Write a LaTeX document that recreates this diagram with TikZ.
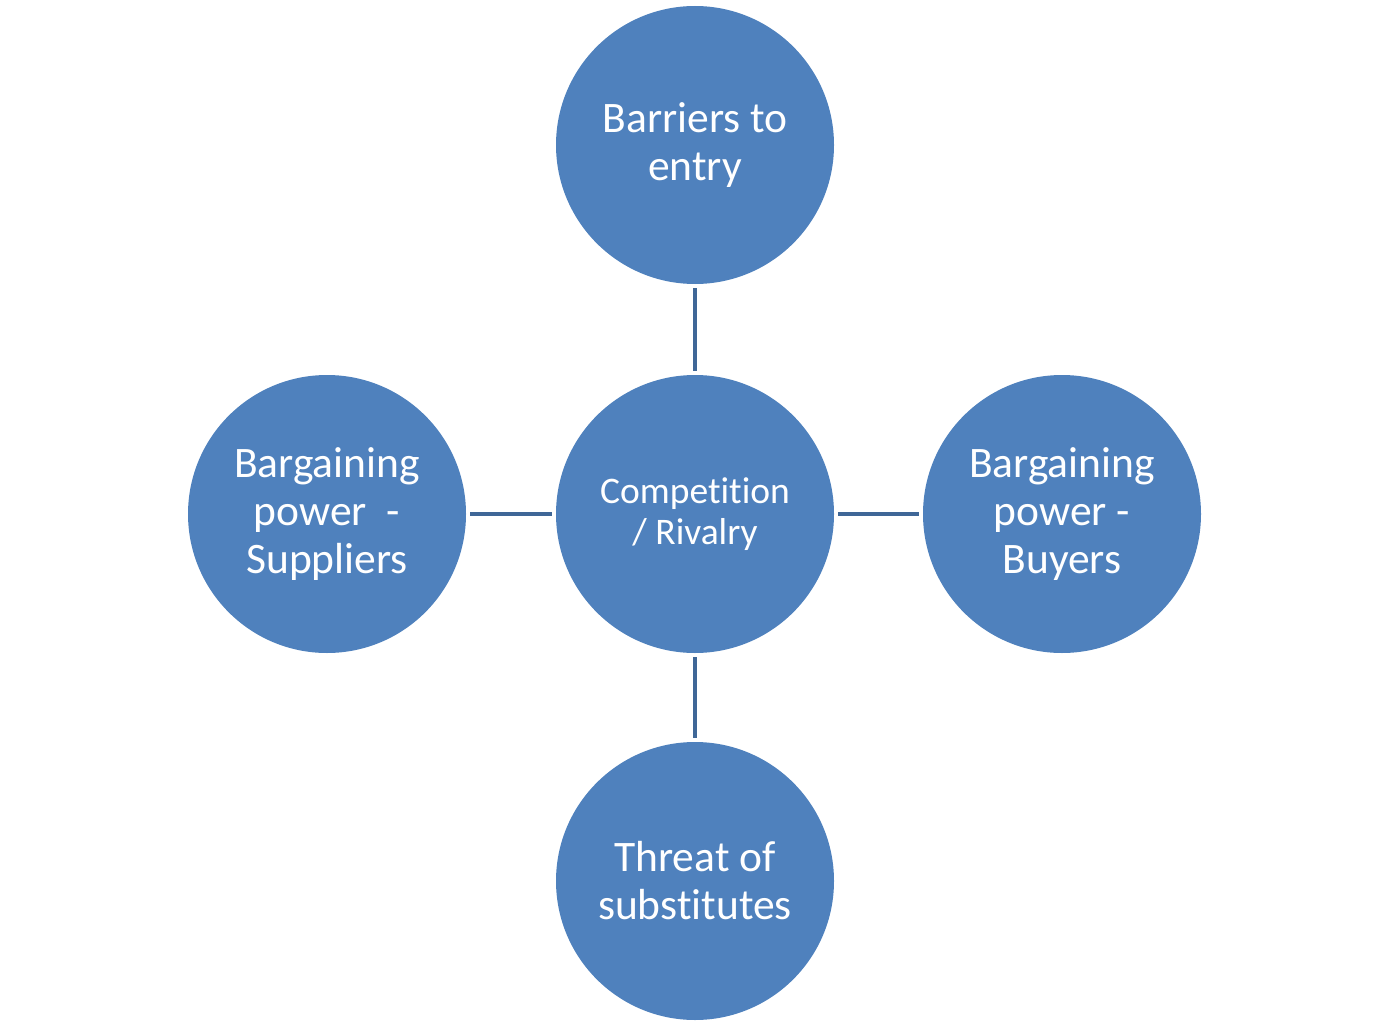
\documentclass[tikz,border=0pt]{standalone}
\usepackage{fontspec}
\setmainfont{Carlito}[Ligatures=NoCommon]
\definecolor{circfill}{HTML}{4F81BD}
\definecolor{linkcol}{HTML}{3F6797}
\tikzset{
  bubble/.style={circle, fill=circfill, draw=none, minimum size=278pt, inner sep=0pt,
    text=white, align=center, font=\fontsize{43.5}{48}\selectfont},
  hubbubble/.style={bubble, font=\fontsize{37.5}{41}\selectfont},
  link/.style={draw=linkcol, line width=4pt, shorten >=4pt, shorten <=4pt}
}
\begin{document}
\begin{tikzpicture}[x=1pt,y=-1pt]
\useasboundingbox (0,0) rectangle (1390,1027);
\node[hubbubble] (c) at (695,514) {Competition\\/ Rivalry};
\node[bubble] (t) at (695,145) {Barriers to\\entry};
\node[bubble] (b) at (695,881) {Threat of\\substitutes};
\node[bubble] (l) at (327,514) {Bargaining\\power~~-\\Suppliers};
\node[bubble] (r) at (1062,514) {Bargaining\\power -\\Buyers};
\draw[link] (t) -- (c);
\draw[link] (c) -- (b);
\draw[link] (l) -- (c);
\draw[link] (c) -- (r);
\end{tikzpicture}
\end{document}
